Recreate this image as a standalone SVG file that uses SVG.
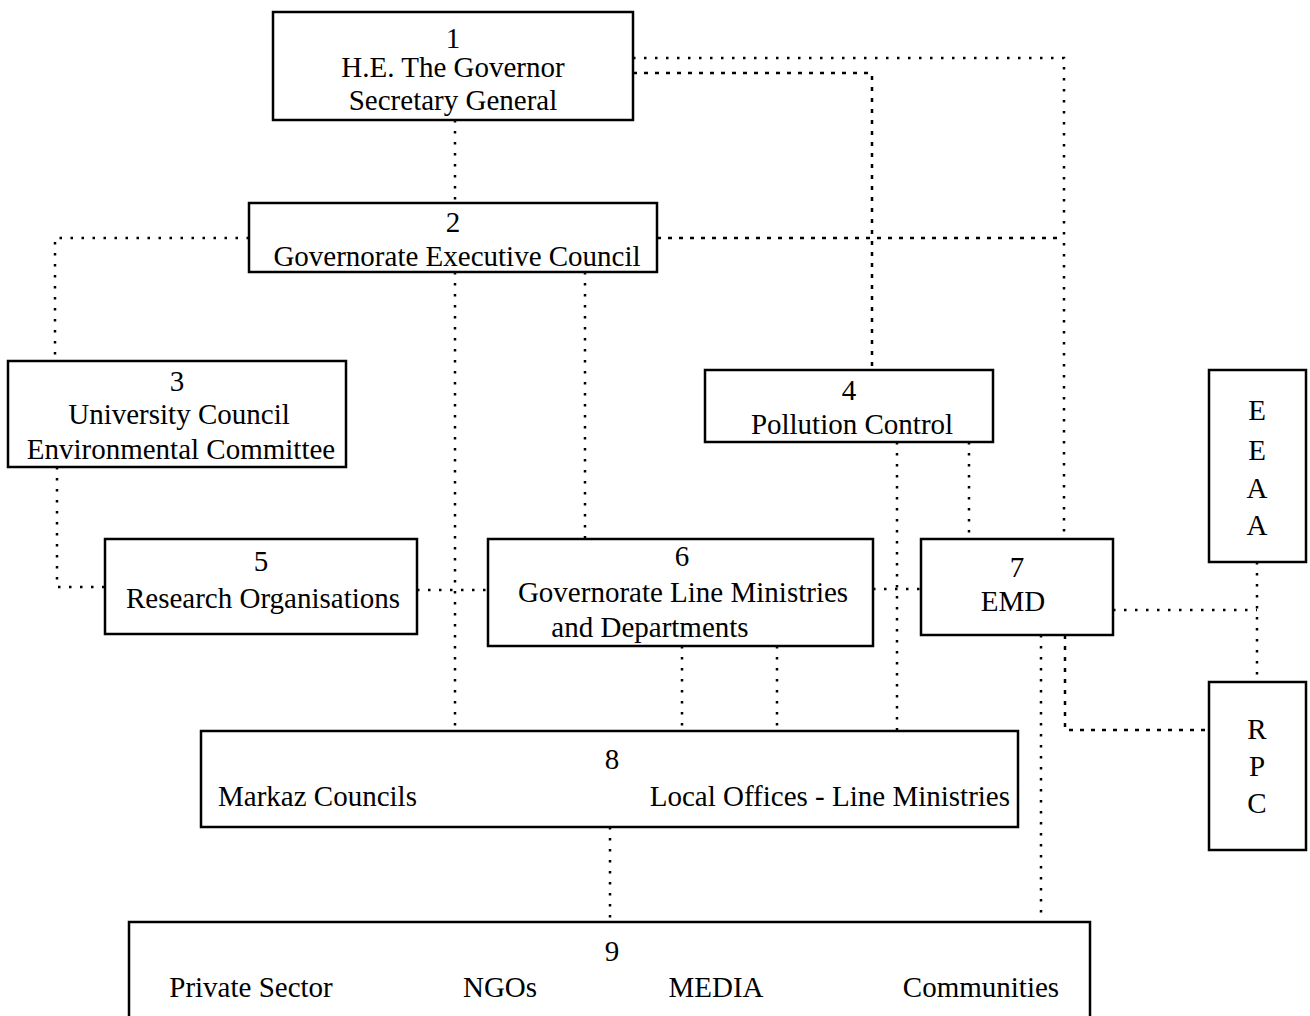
<svg xmlns="http://www.w3.org/2000/svg" width="1310" height="1016" viewBox="0 0 1310 1016">
<style>
.box{fill:#fff;stroke:#000;stroke-width:2.5}
.t{font-family:"Liberation Serif","Times New Roman",serif;font-size:29px;fill:#000;text-anchor:middle}
.s{text-anchor:start}
.e{text-anchor:end}
.dot{fill:none;stroke:#000;stroke-width:2.5;stroke-dasharray:2.5 8.5}
.dash{fill:none;stroke:#000;stroke-width:2.5;stroke-dasharray:4 7}
</style>
<rect width="1310" height="1016" fill="#fff"/>
<g id="connectors">
<path class="dot" d="M455 120V203"/>
<path class="dot" d="M633 58H1064V539"/>
<path class="dash" d="M633 73H872V370"/>
<path class="dash" d="M657 238H1064"/>
<path class="dot" d="M249 238H55V361"/>
<path class="dot" d="M455 272V731"/>
<path class="dot" d="M585 272V539"/>
<path class="dot" d="M57 467V587H105"/>
<path class="dot" d="M417 590H488"/>
<path class="dot" d="M873 589H921"/>
<path class="dot" d="M897 442V731"/>
<path class="dot" d="M969 442V539"/>
<path class="dot" d="M1113 610H1257"/>
<path class="dot" d="M1257 562V682"/>
<path class="dash" d="M1065 635V730H1209"/>
<path class="dot" d="M1041 635V922"/>
<path class="dot" d="M682 646V731"/>
<path class="dot" d="M777 646V731"/>
<path class="dot" d="M610 827V922"/>
</g>
<g id="node1">
<rect class="box" x="273" y="12" width="360" height="108"/>
<text class="t" x="453" y="48">1</text>
<text class="t" x="453" y="77">H.E. The Governor</text>
<text class="t" x="453" y="110">Secretary General</text>
</g>
<g id="node2">
<rect class="box" x="249" y="203" width="408" height="69"/>
<text class="t" x="453" y="232">2</text>
<text class="t" x="457" y="266">Governorate Executive Council</text>
</g>
<g id="node3">
<rect class="box" x="8" y="361" width="338" height="106"/>
<text class="t" x="177" y="391">3</text>
<text class="t" x="179" y="424">University Council</text>
<text class="t" x="181" y="459">Environmental Committee</text>
</g>
<g id="node4">
<rect class="box" x="705" y="370" width="288" height="72"/>
<text class="t" x="849" y="400">4</text>
<text class="t" x="852" y="434">Pollution Control</text>
</g>
<g id="nodeEEAA">
<rect class="box" x="1209" y="370" width="97" height="192"/>
<text class="t" x="1257" y="420">E</text>
<text class="t" x="1257" y="460">E</text>
<text class="t" x="1257" y="498">A</text>
<text class="t" x="1257" y="535">A</text>
</g>
<g id="node5">
<rect class="box" x="105" y="539" width="312" height="95"/>
<text class="t" x="261" y="571">5</text>
<text class="t" x="263" y="608">Research Organisations</text>
</g>
<g id="node6">
<rect class="box" x="488" y="539" width="385" height="107"/>
<text class="t" x="682" y="566">6</text>
<text class="t" x="683" y="602">Governorate Line Ministries</text>
<text class="t" x="650" y="637">and Departments</text>
</g>
<g id="node7">
<rect class="box" x="921" y="539" width="192" height="96"/>
<text class="t" x="1017" y="577">7</text>
<text class="t" x="1013" y="611">EMD</text>
</g>
<g id="nodeRPC">
<rect class="box" x="1209" y="682" width="97" height="168"/>
<text class="t" x="1257" y="739">R</text>
<text class="t" x="1257" y="776">P</text>
<text class="t" x="1257" y="813">C</text>
</g>
<g id="node8">
<rect class="box" x="201" y="731" width="817" height="96"/>
<text class="t" x="612" y="769">8</text>
<text class="t s" x="218" y="806">Markaz Councils</text>
<text class="t e" x="1010" y="806">Local Offices - Line Ministries</text>
</g>
<g id="node9">
<rect class="box" x="129" y="922" width="961" height="100"/>
<text class="t" x="612" y="961">9</text>
<text class="t" x="251" y="997">Private Sector</text>
<text class="t" x="500" y="997">NGOs</text>
<text class="t" x="716" y="997">MEDIA</text>
<text class="t" x="981" y="997">Communities</text>
</g>
</svg>
